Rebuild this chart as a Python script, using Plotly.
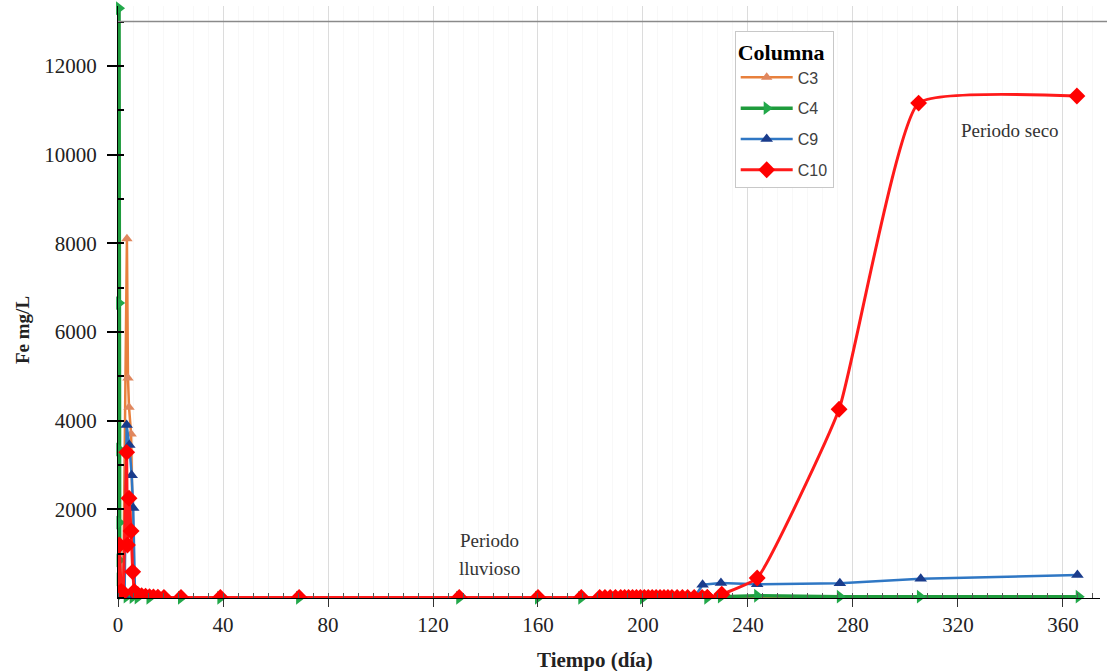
import plotly.graph_objects as go

# ---------------- data ----------------
c3_day = [0.8, 2.0, 3.4, 3.8, 4.2, 5.0, 6.0, 8.0, 12.0, 24.0, 39.0, 69.0, 130.0, 160.0,
          200.0, 224.5, 229.7, 243.5, 275.0, 305.5, 366.0]
c3_fe = [100, 200, 8100, 4960, 4300, 3700, 100, 30, 10, 5, 5, 5, 5, 5,
         5, 5, 15, 20, 15, 15, 15]

c4_day = [0.4, 0.45, 0.5, 0.55, 0.6, 0.65, 1.2, 3.3, 5.6, 7.5, 12.0, 24.0, 39.0,
          69.0, 130.0, 160.0, 176.5, 200.0, 224.5, 229.7, 243.5, 275.0, 305.5, 366.0]
c4_fe = [13300, 6650, 3350, 1700, 850, 420, 100, 30, 20, 10, 5, 5, 5,
         5, 5, 5, 5, 5, 5, 30, 50, 30, 30, 30]

c9_day = [0.6, 1.5, 2.5, 3.3, 4.3, 5.2, 5.8, 6.5, 7.5, 10.5, 15.2, 24.0, 39.0, 69.0,
          130.0, 160.0, 176.5, 200.0, 219.5, 222.7, 229.7, 243.5, 275.0, 305.8, 365.5]
c9_fe = [50, 30, 20, 3900, 3450, 2770, 2030, 60, 30, 10, 10, 5, 5, 5,
         5, 5, 5, 5, 5, 300, 340, 309, 330, 436, 519]

c10_day = [0.0, 0.5, 1.2, 2.0, 3.3, 3.6, 4.2, 5.0, 5.6, 6.2, 7.5, 9.0, 10.5, 12.0,
           13.5, 15.2, 17.5, 24.0, 39.0, 69.0, 130.0, 160.0, 176.5, 183.5, 185.5,
           187.5, 189.5, 191.5, 193.0, 194.5, 196.0, 197.5, 199.0, 200.5, 202.0,
           203.5, 205.0, 206.5, 208.0, 209.5, 211.0, 213.0, 215.0, 217.0, 219.5,
           222.5, 224.5, 230.0, 243.5, 274.7, 305.0, 365.3]
c10_fe = [100, 1195, 150, 120, 3285, 1195, 2250, 1510, 590, 150, 80, 50, 40, 30,
          25, 20, 15, 10, 10, 10, 10, 10, 10, 10, 10,
          10, 10, 10, 10, 10, 10, 10, 10, 10, 10,
          10, 10, 10, 10, 10, 10, 10, 10, 10, 10,
          10, 10, 83, 451, 4255, 11160, 11320]
c10_rise_start = 46  # first point of the smoothed dry-period segment

x_ticks = [0, 40, 80, 120, 160, 200, 240, 280, 320, 360]
y_ticks = [2000, 4000, 6000, 8000, 10000, 12000]

X_RANGE = [0, 374.1]
Y_RANGE = [0, 13350]

SERIF = "Liberation Serif, Times New Roman, serif"
SANS = "Liberation Sans, Arial, sans-serif"

RED_LINE = dict(color="#FF1A1A", width=3)
RED_MARK = dict(symbol="diamond", size=13, color="#FF0000")

fig = go.Figure()

fig.add_trace(go.Scatter(
    x=c3_day, y=c3_fe, name="C3", legendgroup="c3", mode="lines+markers",
    line=dict(color="#E8803C", width=2.5),
    marker=dict(symbol="triangle-up", size=10, color="#E0875E"),
))
fig.add_trace(go.Scatter(
    x=c4_day, y=c4_fe, name="C4", legendgroup="c4", mode="lines+markers", cliponaxis=False,
    line=dict(color="#1E9B3C", width=3.5),
    marker=dict(symbol="triangle-right", size=12, color="#22A84A"),
))
fig.add_trace(go.Scatter(
    x=c9_day, y=c9_fe, name="C9", legendgroup="c9", mode="lines+markers",
    line=dict(color="#2F77C4", width=2.5),
    marker=dict(symbol="triangle-up", size=11, color="#1A3C8C"),
))
fig.add_trace(go.Scatter(
    x=c10_day[:c10_rise_start + 1], y=c10_fe[:c10_rise_start + 1], name="C10",
    legendgroup="c10", mode="lines+markers",
    line=RED_LINE, marker=RED_MARK,
))
fig.add_trace(go.Scatter(
    x=c10_day[c10_rise_start:], y=c10_fe[c10_rise_start:],
    name="C10", legendgroup="c10", showlegend=False, mode="lines+markers",
    line=dict(**RED_LINE, shape="spline", smoothing=0.4), marker=RED_MARK,
))

fig.update_layout(
    width=1107, height=671,
    margin=dict(l=118, r=7, t=6, b=73),
    paper_bgcolor="white", plot_bgcolor="white",
    showlegend=True,
    legend=dict(
        x=0.628, y=0.958, xanchor="left", yanchor="top",
        bgcolor="white", bordercolor="#C8C8C8", borderwidth=1,
        title=dict(text="<b>Columna</b>", font=dict(family=SERIF, size=22, color="black")),
        font=dict(family=SANS, size=16, color="#404040"),
        itemwidth=52, traceorder="grouped", tracegroupgap=7,
    ),
    xaxis=dict(
        range=X_RANGE, tickvals=x_ticks, ticktext=[str(v) for v in x_ticks],
        ticks="outside", ticklen=8, tickcolor="#333", tickwidth=1.3,
        showline=True, linecolor="black", linewidth=1.3,
        showgrid=True, gridcolor="#DCDCDC", gridwidth=1, zeroline=False,
        tickfont=dict(family=SERIF, size=21, color="#222"),
        minor=dict(tickmode="linear", tick0=0, dtick=40 / 7, ticks="inside",
                   ticklen=5, tickcolor="#555", showgrid=True, gridcolor="#F8F8F8"),
    ),
    yaxis=dict(
        range=Y_RANGE, tickvals=y_ticks, ticktext=[str(v) for v in y_ticks],
        ticks="outside", ticklen=10, tickcolor="black", tickwidth=2,
        showline=True, linecolor="black", linewidth=1.3,
        showgrid=False, zeroline=False, ticklabelstandoff=6,
        tickfont=dict(family=SERIF, size=21, color="#222"),
        minor=dict(tickmode="linear", tick0=0, dtick=1000, ticks="inside",
                   ticklen=6, tickcolor="black", tickwidth=1.5),
    ),
    xaxis2=dict(
        overlaying="x", anchor="y", side="bottom", range=X_RANGE,
        tickvals=x_ticks, ticks="inside", ticklen=8, tickcolor="#333", tickwidth=1.3,
        showticklabels=False, showgrid=False, zeroline=False, showline=False,
    ),
    yaxis2=dict(
        overlaying="y", anchor="x", side="left", range=Y_RANGE,
        tickvals=y_ticks, ticks="inside", ticklen=10, tickcolor="black", tickwidth=2,
        showticklabels=False, showgrid=False, zeroline=False, showline=False,
    ),
)

# top border line at 13000
fig.add_shape(type="line", xref="paper", yref="y", x0=0, x1=1.01, y0=13000, y1=13000,
              line=dict(color="#8A8A8A", width=1.5), layer="above")

# axis titles
fig.add_annotation(text="<b>Tiempo (día)</b>", xref="paper", yref="paper",
                   x=(595 - 118) / 982, y=(598 - 660) / 592, showarrow=False,
                   xanchor="center", yanchor="middle",
                   font=dict(family=SERIF, size=21, color="#222"))
fig.add_annotation(text="<b>Fe mg/L</b>", xref="paper", yref="paper",
                   x=(22 - 118) / 982, y=(598 - 330) / 592, showarrow=False, textangle=-90,
                   xanchor="center", yanchor="middle",
                   font=dict(family=SERIF, size=19, color="#222"))

# period labels
fig.add_annotation(text="Periodo", xref="x", yref="y", x=141.7, y=(598 - 540) / 44.35 * 1000,
                   showarrow=False, font=dict(family=SERIF, size=19, color="#333"))
fig.add_annotation(text="lluvioso", xref="x", yref="y", x=141.7, y=(598 - 568) / 44.35 * 1000,
                   showarrow=False, font=dict(family=SERIF, size=19, color="#333"))
fig.add_annotation(text="Periodo seco", xref="x", yref="y", x=339.8, y=10552,
                   showarrow=False, font=dict(family=SERIF, size=19, color="#333"))

fig.write_html("out.html")
